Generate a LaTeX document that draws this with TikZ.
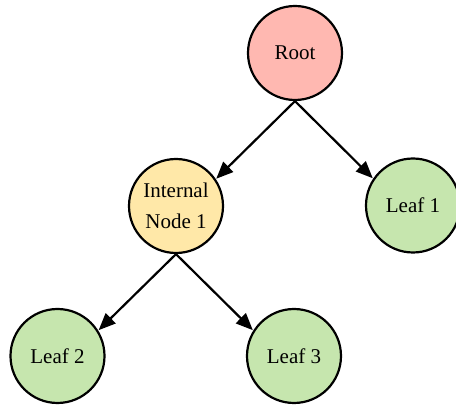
\documentclass[tikz,border=0pt]{standalone}
\usepackage{fontspec}
\setmainfont{Liberation Serif}
\usetikzlibrary{arrows.meta}
\definecolor{rootfill}{HTML}{FFB8B1}
\definecolor{intfill}{HTML}{FFE8A8}
\definecolor{leaffill}{HTML}{C6E6AE}
\tikzset{
  treenode/.style={circle, draw=black, line width=2.2pt, minimum size=94pt, inner sep=0pt, align=center, font=\fontsize{21}{31}\selectfont},
  edge/.style={line width=2.2pt, -{Triangle[length=17pt,width=14pt]}, shorten >=0.5pt}
}
\begin{document}
\begin{tikzpicture}[x=1pt,y=-1pt]
\useasboundingbox (0,0) rectangle (456,406);
\node[treenode, fill=rootfill] (root) at (295,53) {Root};
\node[treenode, fill=intfill] (int) at (176,206) {Internal\\Node 1};
\node[treenode, fill=leaffill] (l1) at (413,205.5) {Leaf 1};
\node[treenode, fill=leaffill] (l2) at (57.5,356) {Leaf 2};
\node[treenode, fill=leaffill] (l3) at (294,356) {Leaf 3};
\draw[edge] (root.south) -- (int.34);
\draw[edge] (root.south) -- (l1.146);
\draw[edge] (int.south) -- (l2.32);
\draw[edge] (int.south) -- (l3.148);
\end{tikzpicture}
\end{document}
